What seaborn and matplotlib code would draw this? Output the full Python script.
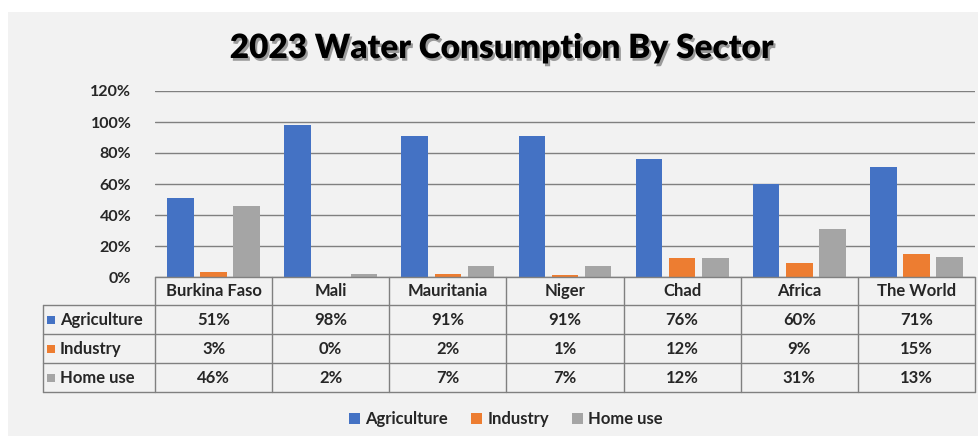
import pandas as pd
import matplotlib.pyplot as plt
import matplotlib.patheffects as pe
from matplotlib.patches import Rectangle
import seaborn as sns

countries = ["Burkina Faso", "Mali", "Mauritania", "Niger", "Chad", "Africa", "The World"]
sectors = ["Agriculture", "Industry", "Home use"]
agriculture = [51, 98, 91, 91, 76, 60, 71]
industry = [3, 0, 2, 1, 12, 9, 15]
home_use = [46, 2, 7, 7, 12, 31, 13]
yticks = [0, 20, 40, 60, 80, 100, 120]

colors = {"Agriculture": "#4472C4", "Industry": "#ED7D31", "Home use": "#A5A5A5"}

df = pd.DataFrame({"Country": countries * 3,
                   "Sector": ["Agriculture"] * 7 + ["Industry"] * 7 + ["Home use"] * 7,
                   "Value": agriculture + industry + home_use})

sns.set_theme(style="white")
plt.rcParams['font.family'] = ['Lato', 'DejaVu Sans']
plt.rcParams['font.weight'] = 'bold'

W, H = 979, 436
fig = plt.figure(figsize=(W / 100, H / 100), dpi=100)
fig.patch.set_facecolor("white")

# pixel-space overlay for background and table
bg = fig.add_axes([0, 0, 1, 1], zorder=0)
bg.set_xlim(0, W)
bg.set_ylim(H, 0)
bg.axis("off")
bg.add_patch(Rectangle((8, 12), W - 8, H - 12, facecolor="#F2F2F2", edgecolor="none"))

left, right, y0, ytop = 155, 975, 277, 91
ax = fig.add_axes([left / W, (H - y0) / H, (right - left) / W, (y0 - ytop) / H], zorder=1)
ax.set_facecolor("none")
sns.barplot(data=df, x="Country", y="Value", hue="Sector", palette=colors, saturation=1,
            width=0.85, gap=0.2, ax=ax, legend=False, zorder=3, linewidth=0)
ax.set_ylim(0, 120)
ax.set_xlim(-0.5, 6.5)
ax.set_yticks(yticks)
ax.set_yticklabels([f"{t}%" for t in yticks], fontsize=11.5, fontweight="bold")
ax.tick_params(axis="y", length=0, pad=17)
ax.set_xticks([])
ax.set_xlabel("")
ax.set_ylabel("")
ax.yaxis.grid(True, color="#808080", linewidth=1, zorder=0)
ax.set_axisbelow(True)
for s in ax.spines.values():
    s.set_visible(False)

# title
fig.text(502 / W, 1 - 48 / H, "2023 Water Consumption By Sector", ha="center", va="center",
         fontsize=24, fontweight="heavy", color="black",
         path_effects=[pe.SimplePatchShadow(offset=(1.5, -2), shadow_rgbFace="#444444", alpha=0.5),
                       pe.Normal()])

# data table
tbl = fig.add_axes([0, 0, 1, 1], zorder=2)
tbl.set_xlim(0, W)
tbl.set_ylim(H, 0)
tbl.axis("off")
lc = "#808080"
colw = (right - left) / len(countries)
rows = [y0, 305, 334, 363, 392]
tleft = 43
# horizontal lines
tbl.plot([left, right], [rows[0], rows[0]], color=lc, lw=1)
for yy in rows[1:]:
    tbl.plot([tleft, right], [yy, yy], color=lc, lw=1)
# vertical lines
tbl.plot([tleft, tleft], [rows[1], rows[-1]], color=lc, lw=1)
for i in range(len(countries) + 1):
    xx = left + i * colw
    tbl.plot([xx, xx], [rows[0], rows[-1]], color=lc, lw=1)
for i, c in enumerate(countries):
    tbl.text(left + (i + 0.5) * colw, (rows[0] + rows[1]) / 2, c, ha="center", va="center",
             fontsize=12, fontweight="bold")
series = [agriculture, industry, home_use]
for r, (name, vals) in enumerate(zip(sectors, series)):
    yc = (rows[r + 1] + rows[r + 2]) / 2
    tbl.add_patch(Rectangle((47, yc - 4), 8, 8, facecolor=colors[name], edgecolor="none"))
    tbl.text(60, yc, name, ha="left", va="center", fontsize=12, fontweight="bold")
    for i, v in enumerate(vals):
        tbl.text(left + (i + 0.5) * colw, yc, f"{v}%", ha="center", va="center",
                 fontsize=12, fontweight="bold")

# legend
handles = [Rectangle((0, 0), 1, 1, facecolor=colors[s], edgecolor="none") for s in sectors]
fig.legend(handles, sectors, loc="center", bbox_to_anchor=(506 / W, 1 - 419 / H), ncol=3,
           frameon=False, handlelength=0.65, handleheight=0.65, handletextpad=0.3,
           columnspacing=1.4, prop={"size": 12, "weight": "bold"})

fig.savefig("out.png", dpi=100, facecolor=fig.get_facecolor())
